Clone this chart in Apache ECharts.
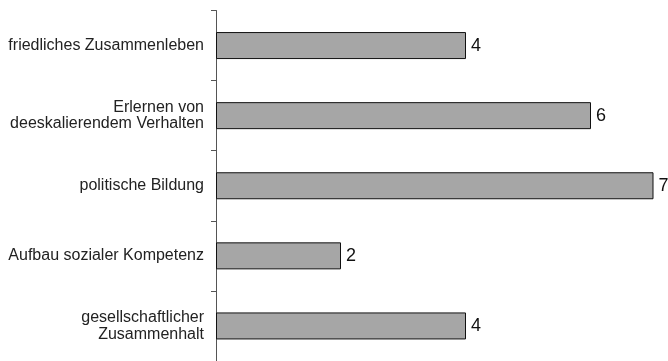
<!DOCTYPE html>
<html>
<head>
	<meta charset="utf-8">
	<title>Ziele</title>
	<script src="https://cdn.jsdelivr.net/npm/echarts@6/dist/echarts.min.js"></script>
	<style>
		html, body { margin: 0; padding: 0; background: #fff; }
		#main { width: 668px; height: 361px; }
	</style>
</head>
<body>
<div id="main"></div>
<script type="text/javascript">
// Kategorien (von oben nach unten)
var categories = [
    'friedliches Zusammenleben',
    'Erlernen von\ndeeskalierendem Verhalten',
    'politische Bildung',
    'Aufbau sozialer Kompetenz',
    'gesellschaftlicher\nZusammenhalt'
];
// Anzahl Nennungen
var values = [4, 6, 7, 2, 4];
var xMax = 7;

var myChart = echarts.init(document.getElementById('main'));

var option = {
    animation: false,
    grid: {
        left: 216,
        right: 14.5,
        top: 10.5,
        bottom: -3.5
    },
    xAxis: {
        type: 'value',
        min: 0,
        max: xMax,
        show: false
    },
    yAxis: {
        type: 'category',
        inverse: true,
        data: categories,
        axisLine: { show: true, lineStyle: { color: '#555', width: 1 } },
        axisTick: { show: true, inside: false, length: 5, lineStyle: { color: '#555' } },
        axisLabel: {
            margin: 12,
            color: '#222',
            fontFamily: 'Liberation Sans, Arial, sans-serif',
            fontSize: 16,
            lineHeight: 16.5,
            align: 'right'
        },
        splitLine: { show: false }
    },
    series: [{
        type: 'bar',
        data: values,
        barWidth: 27,
        itemStyle: {
            color: '#a6a6a6',
            borderColor: '#111',
            borderWidth: 1
        },
        label: {
            show: true,
            position: 'right',
            distance: 5,
            color: '#111',
            fontFamily: 'Liberation Sans, Arial, sans-serif',
            fontSize: 18
        }
    }]
};

myChart.setOption(option);
</script>
</body>
</html>
